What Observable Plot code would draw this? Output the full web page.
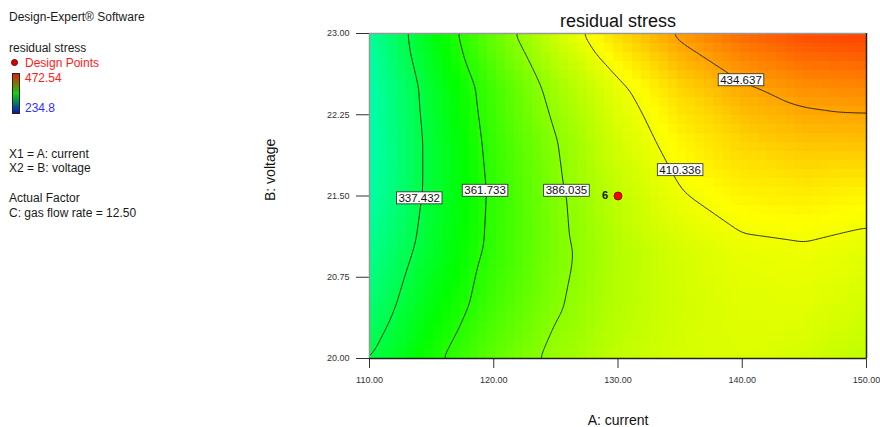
<!DOCTYPE html>
<html><head><meta charset="utf-8">
<script src="https://cdn.jsdelivr.net/npm/d3@7"></script>
<script src="https://cdn.jsdelivr.net/npm/@observablehq/plot@0.6"></script>
<style>
html,body{margin:0;padding:0;background:#fff;overflow:hidden;}
#wrap{position:relative;width:880px;height:427px;font-family:"Liberation Sans",Arial,sans-serif;}
#chart{position:absolute;left:0;top:0;}
#panel div{position:absolute;font-size:12px;line-height:14px;white-space:nowrap;color:#1a1a1a;}
</style></head><body>
<div id="wrap">
<div id="chart"></div>
<div id="panel">
  <div style="left:9px;top:10px">Design-Expert® Software</div>
  <div style="left:9px;top:41px">residual stress</div>
  <div style="left:11px;top:59px;width:7px;height:7px;border-radius:50%;background:#e00000;border:1px solid #600;box-sizing:border-box"></div>
  <div style="left:25px;top:56px;color:#ff1a1a">Design Points</div>
  <div style="left:12px;top:73px;width:8px;height:41px;border:1px solid #222;box-sizing:border-box;background:linear-gradient(to bottom,#e02010,#7a7a00 25%,#10d010 50%,#007a6a 75%,#1010c0)"></div>
  <div id="maxLabel" style="left:25px;top:71px;color:#ff2020"></div>
  <div id="minLabel" style="left:25px;top:101px;color:#3030ff"></div>
  <div style="left:9px;top:147px">X1 = A: current</div>
  <div style="left:9px;top:161px">X2 = B: voltage</div>
  <div style="left:9px;top:191px">Actual Factor</div>
  <div style="left:9px;top:206px">C: gas flow rate = 12.50</div>
</div>
</div>
<script>
// Grid of estimated responses (A: current × B: voltage)
const currents = [110, 115, 120, 125, 130, 135, 140, 145, 150];
const voltages = [20, 20.5, 21, 21.5, 22, 22.5, 23];
const stressAt20   = [337.0, 358.5, 376.0, 389.5, 398.5, 403.5, 405.0, 403.0, 398.0];
const stressAt20_5 = [327.5, 350.5, 369.0, 384.5, 396.0, 402.5, 406.0, 406.5, 403.0];
const stressAt21   = [320.5, 344.5, 365.5, 382.5, 395.5, 403.5, 408.0, 409.2, 407.0];
const stressAt21_5 = [315.5, 341.5, 364.5, 383.5, 398.5, 409.5, 415.5, 417.0, 415.0];
const stressAt22   = [313.0, 341.5, 366.5, 385.5, 403.0, 415.0, 423.0, 427.0, 427.5];
const stressAt22_5 = [313.9, 343.6, 369.3, 391.0, 408.0, 422.6, 433.2, 439.0, 441.0];
const stressAt23   = [317.5, 349.8, 377.9, 401.8, 421.4, 436.8, 447.9, 454.8, 457.4];

// Contour levels and where their labels sit
const levels = [337.432, 361.733, 386.035, 410.336, 434.637];
const labelCurrent = [114.0, 119.3, 125.85, 135.0, 139.9];
const labelVoltage = [21.48, 21.55, 21.55, 21.74, 22.57];

// Design point
const designCurrent = [130];
const designVoltage = [21.5];
const designRun = ["6"];

// Axis ticks
const xTicks = [110, 120, 130, 140, 150];
const yTicks = [20, 20.75, 21.5, 22.25, 23];

// Color legend range
const colorMin = 234.8, colorMax = 472.54;
const rampColors = ["#0000ff", "#00ffff", "#00ff00", "#ffff00", "#ff0000"];

document.getElementById("maxLabel").textContent = String(colorMax);
document.getElementById("minLabel").textContent = String(colorMin);

const rows = [stressAt20, stressAt20_5, stressAt21, stressAt21_5, stressAt22, stressAt22_5, stressAt23];
const table = [];
rows.forEach((row, j) => row.forEach((v, i) => table.push({current: currents[i], voltage: voltages[j], stress: v})));
const fmtLevel = d3.format(".3f");
const labelTable = levels.map((l, i) => ({current: labelCurrent[i], voltage: labelVoltage[i], text: fmtLevel(l)}));
const designTable = designRun.map((r, i) => ({current: designCurrent[i], voltage: designVoltage[i], run: r}));
const stops = rampColors.map((_, i) => colorMin + i * (colorMax - colorMin) / (rampColors.length - 1));

const xMin = currents[0], xMax = currents[currents.length - 1];
const yMin = voltages[0], yMax = voltages[voltages.length - 1];

const chart = Plot.plot({
  width: 880, height: 427,
  marginLeft: 369, marginRight: 14, marginTop: 33, marginBottom: 69,
  style: {fontFamily: "Liberation Sans, Arial, sans-serif", fontSize: "9px", color: "#333", background: "transparent", overflow: "visible"},
  x: {domain: [xMin, xMax], ticks: xTicks, tickFormat: d3.format(".2f"), tickSize: 10, tickPadding: 8, label: null},
  y: {domain: [yMin, yMax], ticks: yTicks, tickFormat: d3.format(".2f"), tickSize: 13, tickPadding: 7, label: null},
  color: {type: "linear", domain: stops, range: rampColors, interpolate: "rgb"},
  marks: [
    Plot.raster(table, {x: "current", y: "voltage", fill: "stress", x1: xMin, x2: xMax, y1: yMin, y2: yMax,
      interpolate: "barycentric", pixelSize: 9, imageRendering: "pixelated"}),
    Plot.contour(table, {x: "current", y: "voltage", value: "stress", x1: xMin, x2: xMax, y1: yMin, y2: yMax,
      thresholds: levels, interpolate: "barycentric", pixelSize: 2, blur: 2,
      fill: "none", stroke: "#1a1a1a", strokeWidth: 0.9}),
    Plot.ruleX([xMin], {stroke: "#999", strokeWidth: 1.5}),
    Plot.ruleY([yMax], {stroke: "#999", strokeWidth: 1.5}),
    Plot.ruleX([xMax], {stroke: "#222", strokeWidth: 1.5}),
    Plot.ruleY([yMin], {stroke: "#222", strokeWidth: 1.5}),
    Plot.dot(designTable, {x: "current", y: "voltage", r: 4, fill: "#ff0000", stroke: "#700", strokeWidth: 0.8}),
    Plot.text(designTable, {x: "current", y: "voltage", text: "run", dx: -13, dy: -1, fontSize: 11, fontWeight: "bold", fill: "#111"}),
    Plot.text(labelTable, {x: "current", y: "voltage", text: "text", fontSize: 11.5, fill: "#111"}),
    Plot.text(["residual stress"], {frameAnchor: "top", lineAnchor: "middle", dy: -12, fontSize: 18, fill: "#111"}),
    Plot.text(["A: current"], {frameAnchor: "bottom", lineAnchor: "middle", dy: 62, fontSize: 14, fill: "#111"}),
    Plot.text(["B: voltage"], {frameAnchor: "left", dx: -99, dy: 5, rotate: -90, fontSize: 14, fill: "#111"})
  ]
});
document.getElementById("chart").append(chart);

// white boxes behind contour labels
const labelTexts = new Set(labelTable.map(d => d.text));
chart.querySelectorAll("text").forEach(t => {
  if (!labelTexts.has(t.textContent)) return;
  const b = t.getBBox();
  const r = document.createElementNS("http://www.w3.org/2000/svg", "rect");
  r.setAttribute("x", b.x - 2);
  r.setAttribute("y", b.y);
  r.setAttribute("width", b.width + 4);
  r.setAttribute("height", b.height);
  r.setAttribute("fill", "#fff");
  r.setAttribute("stroke", "#222");
  r.setAttribute("stroke-width", "0.8");
  if (t.getAttribute("transform")) r.setAttribute("transform", t.getAttribute("transform"));
  t.parentNode.insertBefore(r, t);
});
</script>
</body></html>
